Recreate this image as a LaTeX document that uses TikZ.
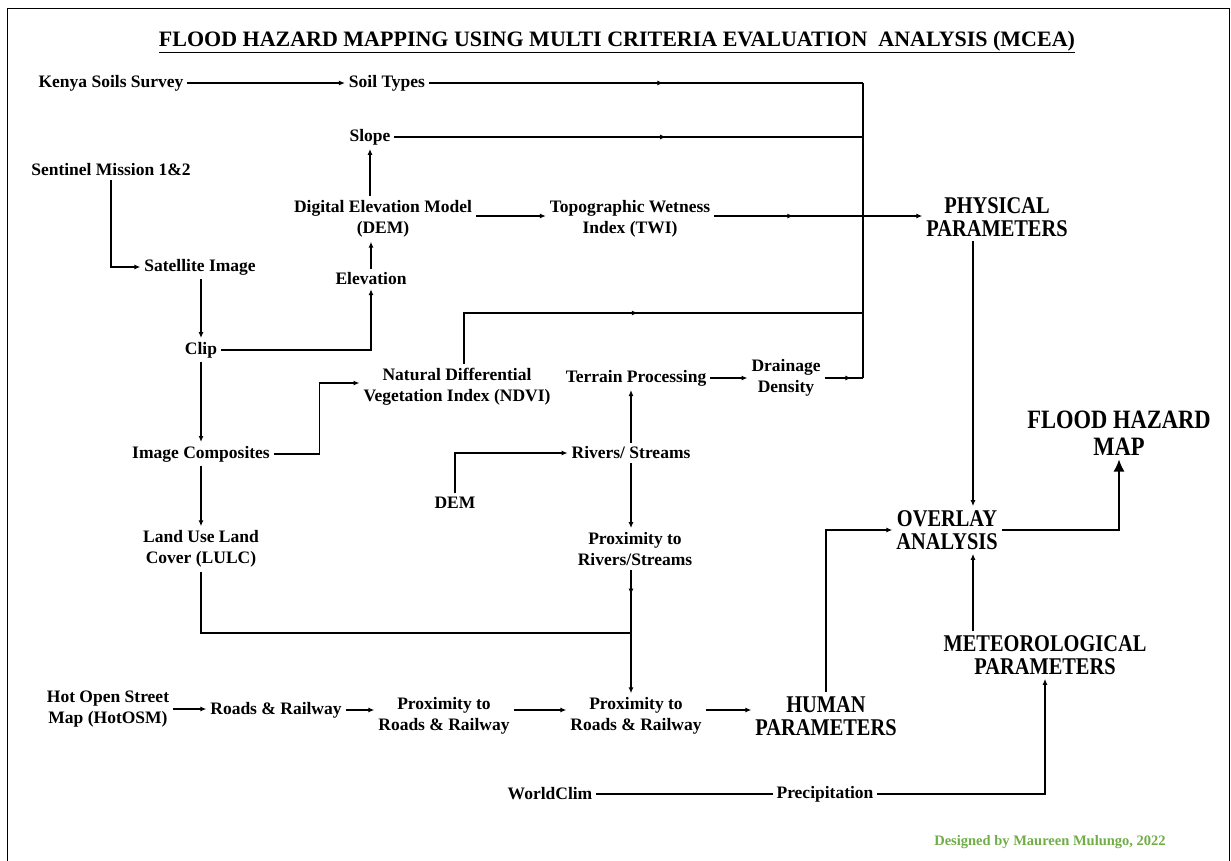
\documentclass[tikz,border=0pt]{standalone}
\usepackage{fontspec}
\setmainfont{Liberation Serif}
\newfontfamily\condfont[FakeStretch=0.85]{Liberation Serif}
\usetikzlibrary{arrows.meta,decorations.markings}
\definecolor{creditgreen}{RGB}{112,173,71}

\begin{document}
\begin{tikzpicture}[x=1pt,y=-1pt,line width=1.2pt,
    lbl/.style={font=\bfseries\fontsize{17.5}{21.5}\selectfont,align=center,inner sep=1pt,outer sep=3pt},
    big/.style={font=\condfont\bfseries\fontsize{24}{23.5}\selectfont,align=center,inner sep=1pt,outer sep=3pt},
    arr/.style={-{Latex[length=6pt,width=5pt]}},
    bigarr/.style={-{Latex[length=12pt,width=11pt]}},
    midarr/.style={postaction={decorate},decoration={markings,mark=at position #1 with {\arrow{Latex[length=6pt,width=5pt]}}}}]

    \def\colx{863}
    \def\vx{973}
    \useasboundingbox (0,0) rectangle (1231,860);

    %frame and title
    \draw[line width=1pt] (7,8) rectangle (1229,880);
    \node[font=\bfseries\fontsize{22}{26}\selectfont] (title) at (617,42)
        {\underline{FLOOD HAZARD MAPPING USING MULTI CRITERIA EVALUATION\ \ ANALYSIS (MCEA)}};

    %source data and derived layers
    \node[lbl] (kss) at (111,83) {Kenya Soils Survey};
    \node[lbl] (soil) at (387,83) {Soil Types};
    \node[lbl] (slope) at (370,137) {Slope};
    \node[lbl] (sent) at (111,170) {Sentinel Mission 1\&2};
    \node[lbl] (dem) at (383,219) {Digital Elevation Model\\(DEM)};
    \node[lbl] (twi) at (630,219) {Topographic Wetness\\Index (TWI)};
    \node[lbl] (sat) at (200,267) {Satellite Image};
    \node[lbl] (elev) at (371,279) {Elevation};
    \node[lbl] (clip) at (201,350) {Clip};
    \node[lbl] (ndvi) at (457,387) {Natural Differential\\Vegetation Index (NDVI)};
    \node[lbl] (terr) at (636,378) {Terrain Processing};
    \node[lbl] (drain) at (786,378) {Drainage\\Density};
    \node[lbl] (imgc) at (201,454) {Image Composites};
    \node[lbl] (riv) at (631,453) {Rivers/ Streams};
    \node[lbl] (dem2) at (455,503) {DEM};
    \node[lbl] (lulc) at (201,549) {Land Use Land\\Cover (LULC)};
    \node[lbl] (proxr) at (635,549) {Proximity to\\Rivers/Streams};
    \node[lbl] (hot) at (108,709) {Hot Open Street\\Map (HotOSM)};
    \node[lbl] (roads) at (276,710) {Roads \& Railway};
    \node[lbl] (proxrd1) at (444,716) {Proximity to\\Roads \& Railway};
    \node[lbl] (proxrd2) at (636,716) {Proximity to\\Roads \& Railway};
    \node[lbl] (wc) at (550,794) {WorldClim};
    \node[lbl] (prec) at (825,794) {Precipitation};

    %parameter groups and result
    \node[big] (phys) at (997,217) {PHYSICAL\\PARAMETERS};
    \node[big] (overlay) at (947,530) {OVERLAY\\ANALYSIS};
    \node[big] (meteo) at (1045,655) {METEOROLOGICAL\\PARAMETERS};
    \node[big] (human) at (826,716) {HUMAN\\PARAMETERS};
    \node[font=\condfont\bfseries\fontsize{26.5}{27.5}\selectfont,align=center,inner sep=1pt,outer sep=3pt] (fhm) at (1119,433) {FLOOD HAZARD\\MAP};
    \node[font=\bfseries\fontsize{14.5}{17}\selectfont,text=creditgreen] (credit) at (1050,842) {Designed by Maureen Mulungo, 2022};

    %collector line on the right of the physical layers
    \coordinate (colT) at (\colx,83);
    \coordinate (colN) at (\colx,313);
    \coordinate (colB) at (\colx,378);
    \draw (colT) -- (colB);
    \draw[midarr=0.54] (soil.east) -- (colT);
    \draw[midarr=0.58] (slope.east) -- (slope.east -| colT);
    \draw[midarr=0.5] ([xshift=7pt]ndvi.north) |- (colN);
    \draw[midarr=0.7] (drain.east) -- (colB);

    %physical branch
    \draw[arr] (kss) -- (soil);
    \draw[arr] (sent.south) |- (sat.west);
    \draw[arr] (sat.south -| clip.north) -- (clip.north);
    \draw[arr] (clip.east) -| (elev.south);
    \draw[arr] (elev.north) -- (elev.north |- dem.south);
    \draw[arr] (dem.north -| slope) -- (slope.south);
    \draw[arr] ([yshift=3pt]dem.east) -- ([yshift=3pt]dem.east -| twi.west);
    \draw[arr,midarr=0.38] ([yshift=3pt]twi.east) -- ([yshift=3pt]twi.east -| phys.west);
    \draw[arr] (clip.south) -- (imgc.north);
    \draw[arr] (imgc.east) -- ++(46,0) |- ([yshift=4pt]ndvi.west);
    \draw[arr] (terr.east) -- (drain.west);
    \draw[arr] (dem2.north) |- (riv.west);
    \draw[arr] (riv.north) -- (riv.north |- terr.south);
    \draw[arr] (riv.south) -- (riv.south |- proxr.north);

    %human branch
    \coordinate (jn) at (631,633);
    \draw[arr] (imgc.south) -- (lulc.north);
    \draw (lulc.south) |- (jn);
    \draw[arr,midarr=0.2] (riv.south |- proxr.south) -- (riv.south |- proxrd2.north);
    \draw[arr] (hot.east) -- (hot.east -| roads.west);
    \draw[arr] (roads.east) -- (roads.east -| proxrd1.west);
    \draw[arr] ([yshift=6pt]proxrd1.east) -- ([yshift=6pt]proxrd2.west);
    \draw[arr] ([yshift=6pt]proxrd2.east) -- ([yshift=6pt]proxrd2.east -| human.west);
    \draw[arr] (human.north) |- (overlay.west);

    %meteorological branch and overlay
    \draw (wc) -- (prec);
    \draw[arr] (prec.east) -| (meteo.south);
    \draw[arr] (phys.south -| \vx,0) -- (overlay.north -| \vx,0);
    \draw[arr] (meteo.north -| \vx,0) -- (overlay.south -| \vx,0);
    \draw[bigarr] (overlay.east) -| (fhm.south);

\end{tikzpicture}
\end{document}
